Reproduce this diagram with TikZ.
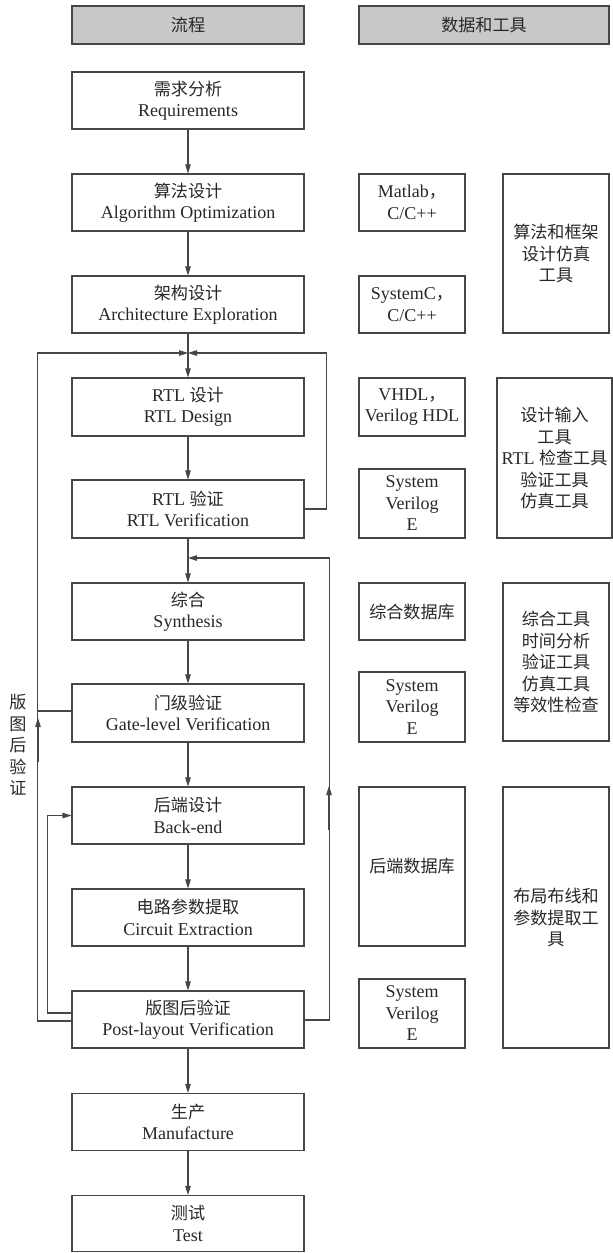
\documentclass[tikz,border=0pt]{standalone}
\usepackage{fontspec}
\setmainfont{Liberation Serif}
\newfontfamily\cjk{Noto Sans CJK SC}[Scale=0.95]
\usetikzlibrary{arrows.meta}
\definecolor{ln}{RGB}{70,70,70}
\definecolor{tx}{RGB}{40,40,40}
\definecolor{hd}{RGB}{200,200,200}
\newcommand{\zh}[1]{{\cjk #1}}
\begin{document}
\begin{tikzpicture}[x=1pt,y=-1pt,
  every node/.style={font=\fontsize{18}{21.5}\selectfont, text=tx, align=center, inner sep=0pt},
  box/.style={draw=ln, line width=1.1pt, fill=white},
  hdr/.style={draw=ln, line width=1.1pt, fill=hd, minimum height=38pt},
  flow/.style={box, minimum width=232pt, minimum height=57pt},
  mid/.style={box, minimum width=106pt},
  rgt/.style={box, minimum width=106pt},
  conn/.style={draw=ln, line width=1.1pt},
  arr/.style={conn, -{Triangle[length=9pt,width=5.5pt]}}]
\useasboundingbox (0,0) rectangle (613,1253);
% headers
\node[hdr, minimum width=232pt] (h1) at (188,25) {\zh{流程}};
\node[hdr, minimum width=250pt] (h2) at (484,25) {\zh{数据和工具}};
% flow boxes
\node[flow] (b1) at (188,100.5) {\zh{需求分析}\\Requirements};
\node[flow] (b2) at (188,202.5) {\zh{算法设计}\\Algorithm Optimization};
\node[flow] (b3) at (188,304.5) {\zh{架构设计}\\Architecture Exploration};
\node[flow, minimum height=58pt] (b4) at (188,407) {RTL \zh{设计}\\RTL Design};
\node[flow, minimum height=58pt] (b5) at (188,509) {RTL \zh{验证}\\RTL Verification};
\node[flow] (b6) at (188,611.5) {\zh{综合}\\Synthesis};
\node[flow, minimum height=58pt] (b7) at (188,713) {\zh{门级验证}\\Gate-level Verification};
\node[flow] (b8) at (188,815.5) {\zh{后端设计}\\Back-end};
\node[flow] (b9) at (188,917.5) {\zh{电路参数提取}\\Circuit Extraction};
\node[flow] (b10) at (188,1019.5) {\zh{版图后验证}\\Post-layout Verification};
\node[flow] (b11) at (188,1122) {\zh{生产}\\Manufacture};
\node[flow, minimum height=56pt] (b12) at (188,1223.5) {\zh{测试}\\Test};
% middle column
\node[mid, minimum height=57pt] (m1) at (412,202.5) {Matlab\zh{，}\\C/C++};
\node[mid, minimum height=57pt] (m2) at (412,304.5) {SystemC\zh{，}\\C/C++};
\node[mid, minimum height=58pt] (m3) at (412,407) {VHDL\zh{，}\\Verilog HDL};
\node[mid, minimum height=69pt] (m4) at (412,503.5) {System\\Verilog\\E};
\node[mid, minimum height=57pt] (m5) at (412,611.5) {\zh{综合数据库}};
\node[mid, minimum height=70pt] (m6) at (412,707) {System\\Verilog\\E};
\node[mid, minimum height=159pt] (m7) at (412,866.5) {\zh{后端数据库}};
\node[mid, minimum height=69pt] (m8) at (412,1013.5) {System\\Verilog\\E};
% right column
\node[rgt, minimum height=159pt] (r1) at (556,253.5) {\zh{算法和框架}\\\zh{设计仿真}\\\zh{工具}};
\node[box, minimum width=115pt, minimum height=160pt] (r2) at (554.5,458) {\zh{设计输入}\\\zh{工具}\\RTL \zh{检查工具}\\\zh{验证工具}\\\zh{仿真工具}};
\node[rgt, minimum height=158pt] (r3) at (556,662) {\zh{综合工具}\\\zh{时间分析}\\\zh{验证工具}\\\zh{仿真工具}\\\zh{等效性检查}};
\node[rgt, minimum height=261pt] (r4) at (556,917.5) {\zh{布局布线和}\\\zh{参数提取工}\\\zh{具}};
% side label
\node (lbl) at (18,745) {\zh{版}\\\zh{图}\\\zh{后}\\\zh{验}\\\zh{证}};
% junction coordinates
\coordinate (j1) at (188,353);
\coordinate (j2) at (188,558);
\coordinate (ua) at (38,762);
\coordinate (ub) at (38,718);
\coordinate (uc) at (329,830);
\coordinate (ud) at (329,786);
% main flow
\draw[arr] (b1) -- (b2);
\draw[arr] (b2) -- (b3);
\draw[arr] (b3) -- (b4);
\draw[arr] (b4) -- (b5);
\draw[arr] (b5) -- (b6);
\draw[arr] (b6) -- (b7);
\draw[arr] (b7) -- (b8);
\draw[arr] (b8) -- (b9);
\draw[arr] (b9) -- (b10);
\draw[arr] (b10) -- (b11);
\draw[arr] (b11) -- (b12);
% feedback loops
\draw[arr] (b5.east) -- ++(22,0) |- (j1);
\draw[arr] ([yshift=-1.5pt]b10.west) -- ++(-34,0) |- (j1);
\draw[conn] ([yshift=2pt]b7.west) -- ++(-34,0);
\draw[arr] (ua) -- (ub);
\draw[arr] ([yshift=6.5pt]b10.west) -- ++(-24,0) |- (b8.west);
\draw[arr] ([yshift=-0.5pt]b10.east) -- ++(25,0) |- (j2);
\draw[arr] (uc) -- (ud);
\end{tikzpicture}
\end{document}
